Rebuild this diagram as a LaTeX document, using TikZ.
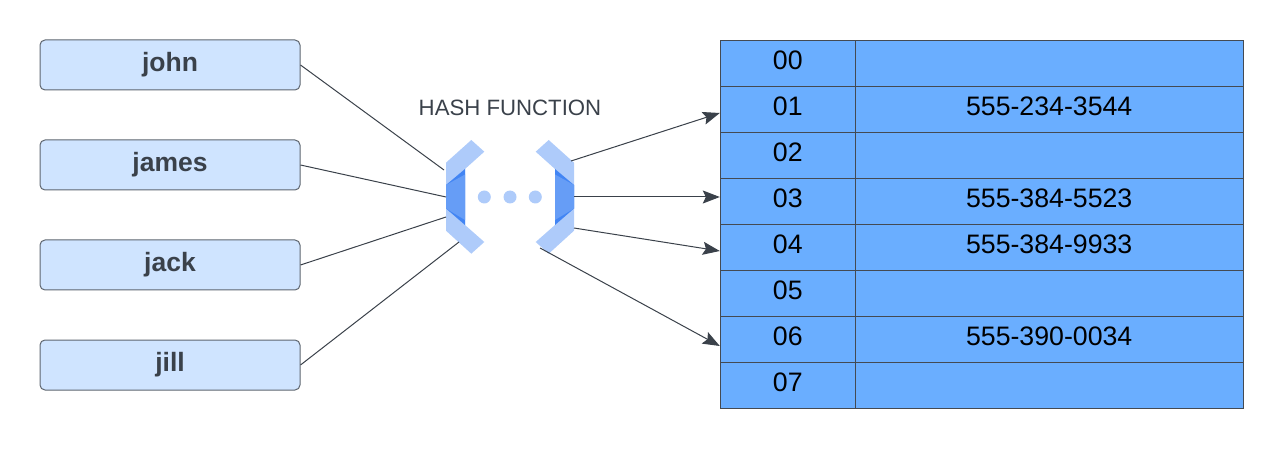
\documentclass[tikz,border=0pt]{standalone}
\usepackage{fontspec}
\setmainfont{Liberation Sans}
\usetikzlibrary{arrows.meta}
\definecolor{boxfill}{HTML}{CFE4FF}
\definecolor{boxline}{HTML}{5E6670}
\definecolor{ink}{HTML}{3A414A}
\definecolor{cellfill}{HTML}{6AAEFF}
\definecolor{cellline}{HTML}{444A52}
\definecolor{hexlight}{HTML}{AECBFA}
\definecolor{hexmid}{HTML}{669DF6}
\definecolor{hexdark}{HTML}{4285F4}
\tikzset{
  keybox/.style={draw=boxline,fill=boxfill,line width=1pt,rounded corners=5pt,minimum width=260pt,minimum height=50pt,inner sep=0pt,
    text=ink,font=\fontsize{26.5}{26}\selectfont\bfseries,text height=18pt,text depth=5pt},
  cell/.style={draw=cellline,fill=cellfill,line width=1pt,minimum height=46pt,inner sep=0pt,text=black,
    font=\fontsize{26.7}{26}\selectfont,text height=19pt,text depth=7.6pt},
  idx/.style={cell,minimum width=135pt},
  val/.style={cell,minimum width=388pt},
  link/.style={draw=ink,line width=1pt},
  arrowlink/.style={link,-{Stealth[length=17pt,width=13pt,inset=3pt]}},
  lite/.style={fill=hexlight,draw=none},
  mid/.style={fill=hexmid,draw=none},
  dark/.style={fill=hexdark,draw=none},
  dot/.style={circle,fill=hexlight,draw=none,minimum size=13pt,inner sep=0pt}
}
\begin{document}
\begin{tikzpicture}[x=1pt,y=-1pt]
\useasboundingbox (0,0) rectangle (1283,449);
% keys
\node[keybox] (john)  at (170,65)  {john};
\node[keybox] (james) at (170,165) {james};
\node[keybox] (jack)  at (170,265) {jack};
\node[keybox] (jill)  at (170,365) {jill};
% table
\foreach \n/\a/\v [count=\i from 0] in {00/00/,01/01/555-234-3544,02/02/,03/03/555-384-5523,04/04/555-384-9933,05/05/,06/06/555-390-0034,07/07/}{
  \node[idx] (i\n) at (787.8,{63.6+46*\i}) {\a};
  \node[val] (v\n) at (1049.2,{63.6+46*\i}) {\v};
}
% label
\node[text=ink,font=\fontsize{22.2}{22}\selectfont,inner sep=0pt] (hashlabel) at (510,108) {HASH FUNCTION};
% hash icon
\foreach \s in {1,-1}{
  \begin{scope}[xshift=510pt,x=\s pt]
    \fill[lite] (-38.7,140) -- (-25.7,151.7) -- (-45,169) -- (-45,225) -- (-25.7,242) -- (-38.7,253.7) -- (-64,230.7) -- (-64,162.7) -- cycle;
    \fill[dark] (-64,185) -- (-45,169) -- (-45,225) -- (-64,208.5) -- cycle;
    \fill[mid] (-64,185) -- (-45,174.5) -- (-45,220) -- (-64,208.5) -- cycle;
  \end{scope}
}
\node[dot] (d1) at (484.3,197) {};
\node[dot] (d2) at (510,197) {};
\node[dot] (d3) at (535.3,197) {};
% connector ends
\coordinate (inA) at (444,170);
\coordinate (inB) at (446,197);
\coordinate (inC) at (446,217);
\coordinate (inD) at (459,242);
\coordinate (outA) at (571,161);
\coordinate (outB) at (574,197);
\coordinate (outC) at (574,228);
\coordinate (outD) at (540,248);
\coordinate (t1) at ([yshift=-3.4pt]i01.west);
\coordinate (t3) at ([yshift=4.6pt]i03.west);
\coordinate (t4) at ([yshift=-3.4pt]i04.west);
\coordinate (t6) at ([yshift=-6.4pt]i06.west);
\draw[link] (john.east) -- (inA);
\draw[link] (james.east) -- (inB);
\draw[link] (jack.east) -- (inC);
\draw[link] (jill.east) -- (inD);
\draw[arrowlink] (outA) -- (t1);
\draw[arrowlink] (outB) -- (t3);
\draw[arrowlink] (outC) -- (t4);
\draw[arrowlink] (outD) -- (t6);
\end{tikzpicture}
\end{document}
